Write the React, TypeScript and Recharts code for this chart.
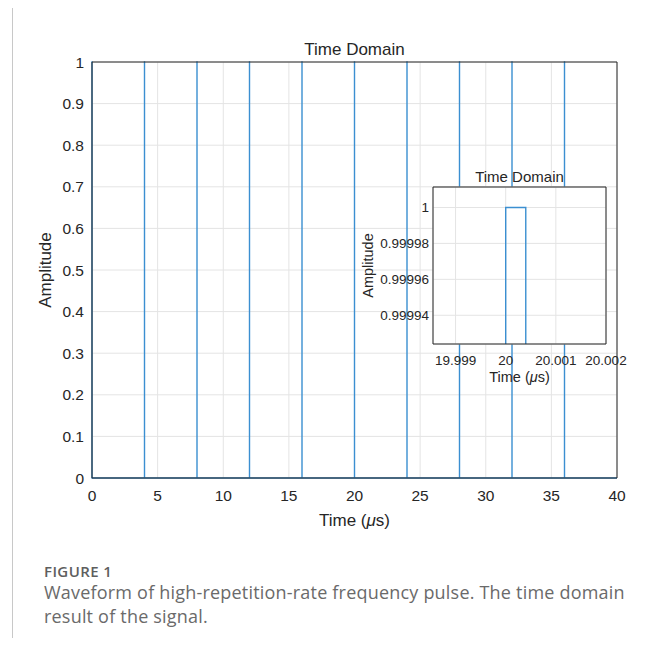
import React from 'react'
import { CartesianGrid, Line, LineChart, XAxis, YAxis } from 'recharts'

// pulse train (µs)
const pulseStarts = [0, 4, 8, 12, 16, 20, 24, 28, 32, 36]
const pulseWidth = 0.0004
const pulseAmplitude = 1
const timeEnd = 40

const xTicks = [0, 5, 10, 15, 20, 25, 30, 35, 40]
const yTicks = [0, 0.1, 0.2, 0.3, 0.4, 0.5, 0.6, 0.7, 0.8, 0.9, 1]

// zoomed view around the pulse at 20 µs
const zoomPulseStart = 20
const zoomXDomain = [19.99855, 20.002]
const zoomYDomain = [0.999924, 1.0000114]
const zoomXTicks = [19.999, 20, 20.001, 20.002]
const zoomYTicks = [0.99994, 0.99996, 0.99998, 1]

const BLUE = '#3b8fd1'
const DARK = '#262626'
const GRID = '#e4e4e4'
const FONT = '"Liberation Sans", Arial, Helvetica, sans-serif'

const mainSeries = [
  ...pulseStarts.flatMap((t) => [
    { t, v: 0 },
    { t, v: pulseAmplitude },
    { t: t + pulseWidth, v: pulseAmplitude },
    { t: t + pulseWidth, v: 0 }
  ]),
  { t: timeEnd, v: 0 }
]

const zoomSeries = [
  { t: zoomXDomain[0], v: 0 },
  { t: zoomPulseStart, v: 0 },
  { t: zoomPulseStart, v: pulseAmplitude },
  { t: zoomPulseStart + pulseWidth, v: pulseAmplitude },
  { t: zoomPulseStart + pulseWidth, v: 0 },
  { t: zoomXDomain[1], v: 0 }
]

function tickText(size: number, digits: number, side: 'x' | 'y') {
  return (props: any) => {
    const label = String(+Number(props.payload.value).toFixed(digits))
    return (
      <text
        x={props.x}
        y={props.y}
        dy={side === 'x' ? '0.71em' : '0.355em'}
        textAnchor={side === 'x' ? 'middle' : 'end'}
        fill={DARK}
        fontSize={size}
        fontFamily={FONT}
      >
        {label}
      </text>
    )
  }
}

function timeLabel(dy: number, size: number) {
  return (props: any) => {
    const vb = props.viewBox
    return (
      <text
        x={vb.x + vb.width / 2}
        y={vb.y + dy}
        textAnchor="middle"
        dominantBaseline="central"
        fill={DARK}
        fontSize={size}
        fontFamily={FONT}
      >
        Time (<tspan fontStyle="italic">μ</tspan>s)
      </text>
    )
  }
}

function ampLabel(dx: number, size: number) {
  return (props: any) => {
    const vb = props.viewBox
    const cx = vb.x + dx
    const cy = vb.y + vb.height / 2
    return (
      <text
        x={cx}
        y={cy}
        transform={`rotate(-90 ${cx} ${cy})`}
        textAnchor="middle"
        dominantBaseline="central"
        fill={DARK}
        fontSize={size}
        fontFamily={FONT}
      >
        Amplitude
      </text>
    )
  }
}

// inward tick marks + box on all four sides
function boxAxes(xDomain: number[], yDomain: number[], xt: number[], yt: number[]) {
  const common = {
    type: 'number' as const,
    tick: false,
    tickSize: 5,
    tickLine: { stroke: DARK },
    allowDataOverflow: true
  }
  return [
    <XAxis key="xt" xAxisId="xt" orientation="top" mirror height={30} domain={xDomain} ticks={xt}
      axisLine={{ stroke: DARK }} {...common} />,
    <XAxis key="xb" xAxisId="xb" orientation="bottom" mirror height={30} domain={xDomain} ticks={xt}
      axisLine={false} {...common} />,
    <YAxis key="yr" yAxisId="yr" orientation="right" mirror width={30} domain={yDomain} ticks={yt}
      axisLine={{ stroke: DARK }} {...common} />,
    <YAxis key="yl" yAxisId="yl" orientation="left" mirror width={30} domain={yDomain} ticks={yt}
      axisLine={false} {...common} />
  ]
}

export default function App() {
  return (
    <div style={{ position: 'relative', width: 652, height: 646, margin: -8, overflow: 'hidden', background: '#fff' }}>
      <div style={{ position: 'absolute', left: 12, top: 7, right: 0, bottom: 0, borderLeft: '1px solid #c8c8c8', borderTop: '1px solid #c8c8c8' }} />

      <div style={{ position: 'absolute', left: 0, top: 0 }}>
        <LineChart width={652} height={560} data={mainSeries} margin={{ top: 62, right: 35, left: 0, bottom: 0 }}>
          <CartesianGrid xAxisId="x" yAxisId="y" stroke={GRID} />
          <XAxis
            xAxisId="x"
            dataKey="t"
            type="number"
            domain={[0, timeEnd]}
            ticks={xTicks}
            height={82}
            tickLine={false}
            tickMargin={6}
            axisLine={{ stroke: DARK }}
            tick={tickText(15.5, 1, 'x')}
            label={timeLabel(42, 17)}
          />
          <YAxis
            yAxisId="y"
            type="number"
            domain={[0, 1]}
            ticks={yTicks}
            width={92}
            tickLine={false}
            axisLine={{ stroke: DARK }}
            tick={tickText(15.5, 1, 'y')}
            label={ampLabel(45, 17)}
          />
          {boxAxes([0, timeEnd], [0, 1], xTicks, yTicks)}
          <Line xAxisId="x" yAxisId="y" type="linear" dataKey="v" stroke={BLUE} strokeWidth={1.4} dot={false} isAnimationActive={false} />
        </LineChart>
      </div>
      <div style={{ position: 'absolute', left: 92, width: 525, top: 40, lineHeight: '20px', textAlign: 'center', fontFamily: FONT, fontSize: 17, color: DARK }}>
        Time Domain
      </div>

      <div style={{ position: 'absolute', left: 340, top: 160 }}>
        <LineChart width={300} height={240} data={zoomSeries} margin={{ top: 27, right: 34, left: 0, bottom: 0 }}>
          <CartesianGrid xAxisId="x" yAxisId="y" stroke={GRID} fill="#fff" fillOpacity={1} />
          <XAxis
            xAxisId="x"
            dataKey="t"
            type="number"
            domain={zoomXDomain}
            ticks={zoomXTicks}
            allowDataOverflow
            height={56}
            tickLine={false}
            tickMargin={5}
            axisLine={{ stroke: DARK }}
            tick={tickText(13.5, 3, 'x')}
            label={timeLabel(33, 14.5)}
          />
          <YAxis
            yAxisId="y"
            type="number"
            domain={zoomYDomain}
            ticks={zoomYTicks}
            allowDataOverflow
            width={93}
            tickLine={false}
            tickSize={2}
            tickMargin={2}
            axisLine={{ stroke: DARK }}
            tick={tickText(13.5, 5, 'y')}
            label={ampLabel(28, 14.5)}
          />
          {boxAxes(zoomXDomain, zoomYDomain, zoomXTicks, zoomYTicks)}
          <Line xAxisId="x" yAxisId="y" type="linear" dataKey="v" stroke={BLUE} strokeWidth={1.4} dot={false} isAnimationActive={false} />
        </LineChart>
      </div>
      <div style={{ position: 'absolute', left: 433, width: 173, top: 168, lineHeight: '18px', textAlign: 'center', fontFamily: FONT, fontSize: 15, color: DARK }}>
        Time Domain
      </div>

      <div style={{ position: 'absolute', left: 44, top: 562, width: 600, fontFamily: '"Open Sans", sans-serif', color: '#6a6a6a' }}>
        <div style={{ fontSize: 15, fontWeight: 600, color: '#5e5e5e', lineHeight: '18px', letterSpacing: 0.4 }}>FIGURE 1</div>
        <div style={{ fontSize: 18, lineHeight: '24px', letterSpacing: 0.2 }}>
          Waveform of high-repetition-rate frequency pulse. The time domain result of the signal.
        </div>
      </div>
    </div>
  )
}
